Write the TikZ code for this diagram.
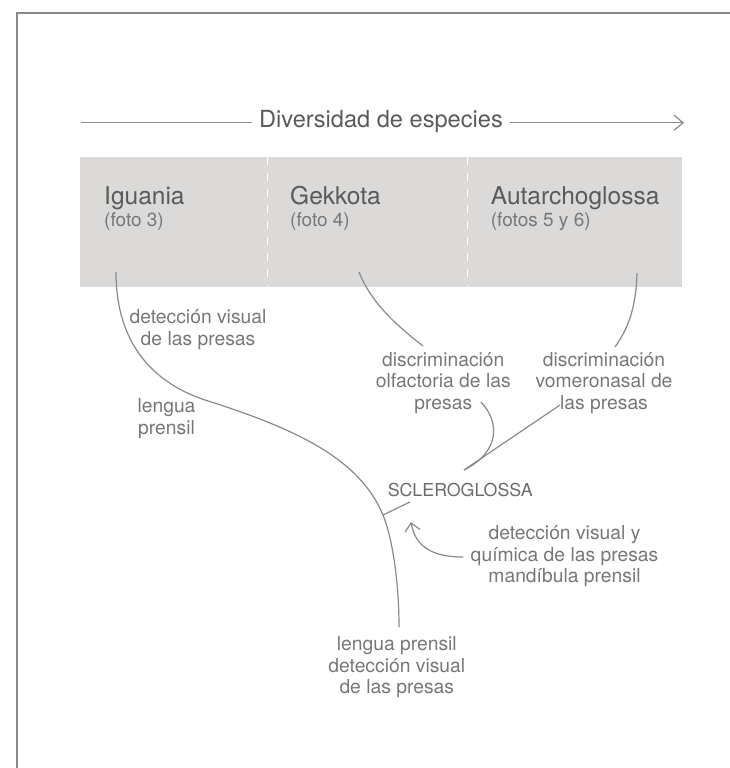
\documentclass[tikz,border=0pt]{standalone}
\usepackage{fontspec}
\setmainfont{TeX Gyre Heros}
\usetikzlibrary{arrows.meta}
\definecolor{linegray}{HTML}{8A8A8A}
\definecolor{boxgray}{HTML}{DBDAD8}
\definecolor{headgray}{HTML}{5A5A5A}
\definecolor{textgray}{HTML}{777777}
\tikzset{
    branch/.style={draw=linegray, line width=1.2pt},
    note/.style={text=textgray, inner sep=0pt, align=center, anchor=north, font=\fontsize{19.3}{21.8}\selectfont},
    group/.style={text=headgray, inner sep=0pt, anchor=base west, font=\fontsize{24.5}{28}\selectfont},
    photo/.style={text=textgray, inner sep=0pt, anchor=base west, font=\fontsize{19}{22}\selectfont},
}
\begin{document}
\begin{tikzpicture}[x=1pt, y=-1pt]
    \useasboundingbox (0,0) rectangle (730,768);
    \draw[linegray, line width=2pt] (17,768) -- (17,13) -- (730,13);
    \fill[boxgray] (80,157.3) rectangle (682.3,286.7);
    \foreach \x in {267.3,467.3}
    {
        \draw[white, line width=1.2pt, dash pattern=on 8pt off 8pt] (\x,157.3) -- (\x,286.7);
    }
    \node[text=headgray, inner xsep=7pt, inner ysep=0pt, anchor=base, font=\fontsize{23.6}{28}\selectfont] (title) at (381,127.3) {Diversidad de especies};
    \coordinate (axis-l) at (80.7,122.7);
    \coordinate (axis-r) at (684,122.7);
    \draw[branch] (axis-l) -- (axis-l -| title.west);
    \draw[branch, -{Straight Barb[length=9pt, width=15pt]}] (axis-r -| title.east) -- (axis-r);
    \foreach[count=\i] \g/\f/\x in {Iguania/(foto 3)/104, Gekkota/(foto 4)/290, Autarchoglossa/(fotos 5 y 6)/490.7}
    {
        \node[group] (grp\i) at (\x,204.3) {\g};
        \node[photo] (foto\i) at (\x,226.3) {\f};
    }
    \node[note] (vis) at (198,309.1) {detección visual\\de las presas};
    \node[note] (tongue) at (166.5,398.1) {lengua\\prensil};
    \node[note] (olf) at (443.3,351.8) {discriminación\\olfactoria de las\\presas};
    \node[note] (vom) at (604,351.8) {discriminación\\vomeronasal de\\las presas};
    \node[text=textgray!90!black, inner sep=0pt, anchor=base, font=\fontsize{17.8}{21}\selectfont] (sclero) at (460.3,496.7) {SCLEROGLOSSA};
    \node[note] (chem) at (564.5,525.1) {detección visual y\\química de las presas\\mandíbula prensil};
    \node[note] (base) at (396.8,636.1) {lengua prensil\\detección visual\\de las presas};
    \coordinate (igu) at (116,272);
    \coordinate (gek) at (359,272);
    \coordinate (aut) at (637,273);
    \coordinate (fork) at (383,515);
    \coordinate (fork-tip) at (410,502);
    \coordinate (root) at (399,627);
    \coordinate (scl) at (464,470);
    \coordinate (olf-in) at (423,346);
    \coordinate (vom-in) at (615,347);
    \coordinate (olf-out) at (481,402);
    \coordinate (vom-out) at (560,405);
    \coordinate (chem-out) at (463,557);
    \coordinate (chem-tip) at (411,522);
    \draw[branch] (igu) .. controls (116,350) and (160,385) .. (205,400) .. controls (300,430) and (360,460) .. (fork) .. controls (392,537) and (399,580) .. (root);
    \draw[branch] (fork) -- (fork-tip);
    \draw[branch] (gek) .. controls (370,300) and (392,322) .. (olf-in);
    \draw[branch] (aut) .. controls (636,310) and (627,330) .. (vom-in);
    \draw[branch] (vom-out) -- (scl);
    \draw[branch] (olf-out) .. controls (500,422) and (500,452) .. (scl);
    \draw[branch, -{Straight Barb[length=8pt, width=15pt]}] (chem-out) .. controls (430,557) and (415,545) .. (chem-tip);
\end{tikzpicture}
\end{document}
